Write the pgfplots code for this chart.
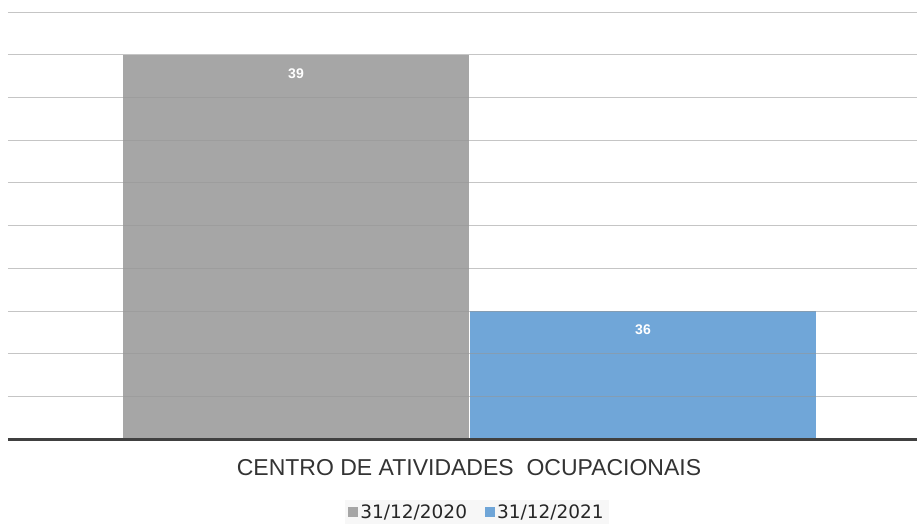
\documentclass[border=0pt]{standalone}
\usepackage{pgfplots}
\pgfplotsset{compat=1.18}
\usepackage{fontspec}
\setmainfont{Liberation Sans}
\newfontfamily\legfont{DejaVu Sans}
\definecolor{bargrey}{RGB}{166,166,166}
\definecolor{barblue}{RGB}{112,166,216}
\definecolor{gridgrey}{RGB}{150,150,150}
\definecolor{basecol}{RGB}{64,64,64}
\begin{document}
\begin{tikzpicture}[x=1pt,y=1pt]
\begin{axis}[
  name=ax,
  scale only axis,
  width=909pt, height=427pt,
  at={(0,0)}, anchor=south west,
  xmin=0, xmax=909,
  ymin=34.5, ymax=39.5,
  ytick={34.5,35,...,39.5},
  yticklabels={},
  ymajorgrids,
  grid style={gridgrey, line width=0.8pt, opacity=0.55},
  axis on top,
  axis line style={draw=none},
  xtick={461},
  xticklabels={CENTRO DE ATIVIDADES \ OCUPACIONAIS},
  xticklabel style={font=\fontsize{23}{27}\selectfont, text=black!80, yshift=-17pt},
  major tick length=0pt,
  ybar, bar width=346,
  nodes near coords,
  /pgf/number format/assume math mode=true,
  every node near coord/.append style={anchor=center, yshift=-19pt, text=white, font=\fontsize{14}{16}\selectfont\bfseries},
  legend style={at={(0.516,-0.171)}, anchor=center, draw=none, fill=black!3, legend columns=2,
    font=\legfont\fontsize{18.5}{22}\selectfont, text=black!85,
    /tikz/every even column/.append style={column sep=16pt}},
  legend image code/.code={\fill[#1] (0pt,-5pt) rectangle (10pt,5pt);},
]
\addplot[fill=bargrey, draw=none, bar shift=0pt] coordinates {(288,39)};
\addplot[fill=barblue, draw=none, bar shift=0pt] coordinates {(635,36)};
\legend{31/12/2020,31/12/2021}
\end{axis}
\draw[basecol, line width=3pt] (0,0) -- (909,0);
\pgfresetboundingbox
\path[use as bounding box] (-8,-84) rectangle (909,439);
\end{tikzpicture}
\end{document}
